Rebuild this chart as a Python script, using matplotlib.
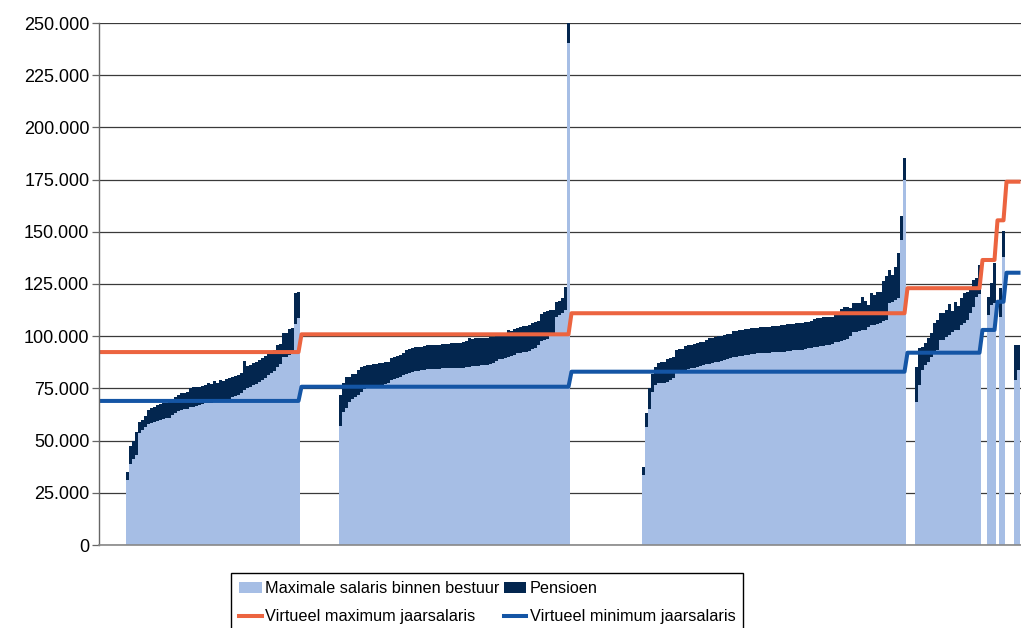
import matplotlib
matplotlib.use("Agg")
import matplotlib.pyplot as plt
import numpy as np

plt.rcParams["font.family"] = ["Liberation Sans", "DejaVu Sans"]

# per schaal: lege categorieen vooraan, dan gesorteerde salarissen (x1000)
# salaris = maximale salaris binnen bestuur, totaal = salaris + pensioen
leeg = [9, 13, 24, 3, 2, 1, 3]

salaris_a = [31, 39, 41, 43, 53.6, 55, 56.7, 58, 58.5, 59, 59.5, 60, 60.5, 60.8, 61,
             62.5, 63.4, 64, 64.7, 65, 65.3, 66, 66.3, 66.6, 67, 67.5, 67.8, 68, 68.2,
             68.4, 68.6, 68.8, 69, 69.5, 70, 71, 71.5, 72, 73, 74, 75, 75.7, 76.5, 77,
             78, 79, 80, 81.4, 82.5, 83.5, 85.4, 86.5, 90, 90, 91, 92.6, 106, 108.7]
totaal_a = [35, 47.5, 50, 54, 59, 60, 61.8, 64.7, 65.5, 66, 67, 67.5, 68, 68, 68.3,
            70, 71, 72, 72.6, 73, 73.3, 75, 75.5, 75.5, 75.8, 76.2, 76.6, 77.5, 77,
            78.5, 77.8, 79, 78.5, 79.5, 80, 80.5, 81, 81.5, 82.5, 88, 85.5, 86, 87, 87.5,
            88.5, 89.5, 90.5, 92.6, 92.6, 93.5, 95.8, 96.5, 101.5, 101.5, 103.5, 104, 120.7, 121]

salaris_b = [57, 63.9, 65.5, 68.6, 70, 70.7, 71.9, 73.4, 74.7, 75, 75, 75.2, 75.3, 75.4,
             75.5, 77, 77.8, 79, 79.4, 80, 80.3, 81.4, 82, 82.5, 83, 83.5, 83.5, 83.6, 84,
             84.2, 84.2, 84.3, 84.4, 84.5, 84.6, 84.6, 84.7, 84.6, 84.6, 84.7, 84.8, 85,
             85.2, 85.4, 85.5, 85.7, 85.8, 86, 86.2, 86.3, 86.5, 87, 88, 88.9, 89.2, 89.5,
             90.2, 90.5, 90.8, 91.8, 92, 92.3, 92.6, 93, 94, 94.4, 96, 97.5, 98, 98.5,
             100.6, 101, 109.4, 110, 111, 112.6, 240.6]
totaal_b = [71.9, 77.4, 80.3, 80.6, 81.9, 82, 83.8, 85.4, 85.7, 86.2, 86.2, 86.5, 86.8,
            87.3, 87.3, 87.5, 87.8, 89.5, 90, 90.5, 91, 92.1, 93.3, 93.7, 94.2, 94.7, 94.7,
            94.8, 95.3, 95.6, 95.6, 95.7, 95.8, 96, 96.2, 96.3, 96.4, 96.6, 96.6, 96.7,
            96.8, 97, 97.5, 99, 98.8, 99, 99, 99, 99, 99.2, 99.5, 99.8, 100.3, 100.6, 101.5,
            101, 103, 102.5, 103.5, 104, 104.6, 104.8, 105, 105.5, 106.5, 106.8, 107.5,
            110.5, 111.8, 112, 112.6, 112.6, 116.5, 117, 118.3, 123.7, 252]

salaris_c = [33.5, 56.7, 65, 73.4, 76.6, 77.4, 77.4, 77.6, 78.2, 79, 79.8, 82.5, 82.8,
             83.5, 84, 84.4, 84.6, 85, 85.3, 85.8, 86, 86.5, 86.8, 87.2, 87.5, 87.8, 88.3,
             88.6, 89, 89.4, 90, 90.2, 90.4, 90.6, 91, 91.2, 91.5, 91.7, 91.8, 91.8, 92, 92,
             92.1, 92.2, 92.3, 92.5, 92.6, 92.6, 92.8, 93, 93.2, 93.4, 93.4, 93.6, 93.8,
             94.2, 94.5, 95, 95, 95.3, 95.5, 95.8, 95.8, 96.5, 97.4, 97.4, 97.8, 98.2, 98.5,
             100, 102.2, 102.2, 102.5, 103, 103, 104.6, 105.4, 105.4, 106, 106.5, 107.4,
             107.8, 116, 116.6, 117.4, 118.2, 146, 174.8]
totaal_c = [37.5, 63.4, 75, 81.9, 85.4, 87, 87.8, 87.8, 88.9, 89.4, 90.2, 93.4, 93.7,
            93.7, 95.3, 95.8, 95.8, 96.3, 96.9, 97.2, 97.4, 98, 99, 99.3, 99.6, 100.1,
            100.1, 100.4, 101, 101.2, 102.5, 102.5, 103, 103, 103.3, 103.5, 103.8, 104, 104,
            104.3, 104.5, 104.6, 104.6, 104.9, 104.9, 105, 105.4, 105.6, 105.9, 105.9, 106,
            106.2, 106.2, 106.5, 107, 107, 107.4, 108, 108.6, 108.6, 109, 109, 109.4, 109.4,
            111, 111, 113, 114.2, 114.2, 113.5, 115.8, 116, 115.8, 118.9, 117, 115, 120.7,
            119.5, 121.3, 121.3, 126.6, 128.8, 131.7, 129.3, 133.3, 139.7, 157.6, 185.2]

salaris_d = [68.6, 76.6, 83.8, 86.2, 87.8, 90.2, 92.6, 93.4, 98.2, 98.2, 99.4, 100.6,
             102.2, 103, 103, 105.4, 106.2, 107.8, 111, 114.2, 118.9, 120]
totaal_d = [85.4, 94.2, 95, 96.9, 99, 101.4, 106.2, 107.8, 111, 111.3, 112.6, 115.4,
            112.2, 116.5, 114.5, 118.2, 120.6, 121.3, 123, 127, 127.8, 134.1]

salaris_e = [110, 115, 116]
totaal_e = [119, 125.4, 135]
salaris_f = [109, 138]
totaal_f = [123, 150.4]
salaris_g = [79, 84]
totaal_g = [95.8, 96]

# virtuele grenzen per schaal (x1000)
virt_max = [92.4, 100.9, 111, 123, 136.5, 155.5, 174]
virt_min = [69, 75.8, 83, 92.1, 103, 116.5, 130.4]

salaris_groepen = [salaris_a, salaris_b, salaris_c, salaris_d, salaris_e, salaris_f, salaris_g]
totaal_groepen = [totaal_a, totaal_b, totaal_c, totaal_d, totaal_e, totaal_f, totaal_g]

salaris, totaal, lijn_max, lijn_min = [], [], [], []
for n0, s, t, vmax, vmin in zip(leeg, salaris_groepen, totaal_groepen, virt_max, virt_min):
    salaris += [np.nan] * n0 + s
    totaal += [np.nan] * n0 + t
    lijn_max += [vmax] * (n0 + len(s))
    lijn_min += [vmin] * (n0 + len(s))

salaris = np.array(salaris) * 1000
totaal = np.array(totaal) * 1000
pensioen = totaal - salaris
x = np.arange(len(salaris))

light = "#A6BEE5"
dark = "#03264F"
orange = "#EC6440"
blue = "#1455A5"

fig = plt.figure(figsize=(10.21, 6.28), dpi=100)
ax = fig.add_axes([99 / 1021, 83 / 628, 922 / 1021, 522 / 628])

b1 = ax.bar(x, salaris, width=1.0, color=light, linewidth=0)
b2 = ax.bar(x, pensioen, width=1.0, bottom=salaris, color=dark, linewidth=0)
l1, = ax.plot(x, np.array(lijn_max) * 1000, color=orange, linewidth=2.9)
l2, = ax.plot(x, np.array(lijn_min) * 1000, color=blue, linewidth=2.9)

ax.set_xlim(-0.5, -0.5 + 922 / 3)
ax.set_ylim(0, 250000)
yt = np.arange(0, 250001, 25000)
ax.set_yticks(yt)
ax.set_yticklabels([f"{v:,}".replace(",", ".") for v in yt], fontsize=13)
ax.set_xticks([])
ax.grid(axis="y", color="#3a3a3a", linewidth=0.9)
ax.set_axisbelow(True)
ax.tick_params(axis="y", length=5, width=0.9, color="#666666", pad=2)
for side in ["top", "right"]:
    ax.spines[side].set_visible(False)
ax.spines["left"].set_color("#666666")
ax.spines["bottom"].set_color("#888888")
ax.spines["left"].set_linewidth(1.0)
ax.spines["bottom"].set_linewidth(1.2)

# kolomsgewijs: salaris, max | pensioen, min
leg = fig.legend([b1, l1, b2, l2],
                 ["Maximale salaris binnen bestuur", "Virtueel maximum jaarsalaris",
                  "Pensioen", "Virtueel minimum jaarsalaris"],
                 ncol=2, loc="upper left", bbox_to_anchor=(231 / 1021, 1 - 573 / 628),
                 fontsize=11.7, frameon=True, fancybox=False, framealpha=1,
                 edgecolor="black", handlelength=1.4, handleheight=0.6,
                 handletextpad=0.2, columnspacing=0.25, labelspacing=0.8,
                 borderpad=0.5, borderaxespad=0)
leg.get_frame().set_linewidth(1.0)

fig.savefig("out.png", dpi=100)
